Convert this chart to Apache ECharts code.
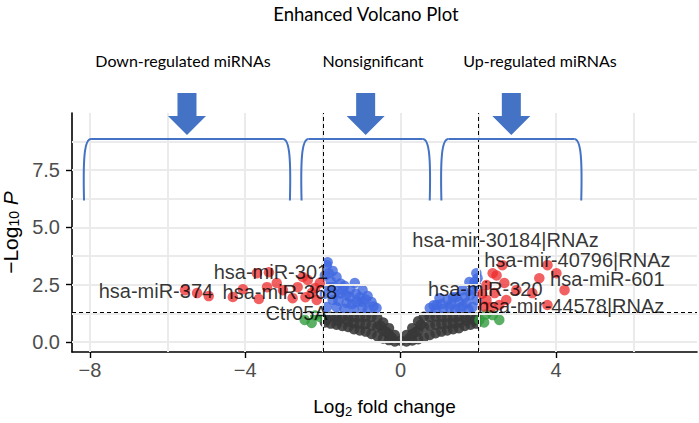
<!DOCTYPE html>
<html>
<head>
<meta charset="utf-8">
<script src="https://cdn.jsdelivr.net/npm/echarts@6/dist/echarts.min.js"></script>
<style>
  html, body { margin: 0; padding: 0; background: #fff; }
  #volcano { width: 699px; height: 423px; }
</style>
</head>
<body>
<div id="volcano"></div>
<script>
// 坐标轴刻度
const xTicks = [-8, -4, 0, 4]
const yTicks = [0, 2.5, 5, 7.5]
const xMinor = [-6, -2, 2, 6]
const yMinor = [1.25, 3.75, 6.25, 8.75]
const xRange = [-8.46, 7.63]
const yRange = [-0.44, 9.99]

// 阈值: |log2FC| = 2, -log10 P = 1.3
const fcCutoff = [-2, 2]
const pCutoff = [1.3]

// 不显著 (灰)
const grayPoints = [
  [-1.95, 1.1], [-1.8, 1.1], [-1.65, 1.1], [-1.5, 1.1], [-1.35, 1.1], [-1.2, 1.1], [-1.05, 1.1],
  [-0.9, 1.1], [-0.75, 1.1], [-0.6, 1.05], [-0.45, 0.85], [-0.3, 0.6], [-0.15, 0.3],
  [-1.95, 0.85], [-1.8, 0.8], [-1.65, 0.75], [-1.5, 0.7], [-1.35, 0.65], [-1.2, 0.55], [-1.05, 0.5],
  [-0.9, 0.45], [-0.75, 0.35], [-0.6, 0.25], [-0.45, 0.15], [-0.3, 0.08], [-0.15, 0.02],
  [-1.35, 0.88], [-1.2, 0.82], [-1.05, 0.8], [-0.9, 0.78], [-0.75, 0.72], [-0.6, 0.65], [-0.45, 0.5], [-0.3, 0.33],
  [-1.9, 0.98], [-1.6, 0.92], [-0.52, 0.7], [-0.38, 0.45], [-0.22, 0.18],
  [0, 0.05],
  [0.15, 0.3], [0.3, 0.6], [0.45, 0.9], [0.6, 1.1], [0.75, 1.1], [0.9, 1.1], [1.05, 1.1],
  [1.2, 1.1], [1.35, 1.1], [1.5, 1.1], [1.65, 1.1], [1.8, 1.1], [1.95, 1.05],
  [0.15, 0.02], [0.3, 0.06], [0.45, 0.12], [0.6, 0.2], [0.75, 0.3], [0.9, 0.38], [1.05, 0.45],
  [1.2, 0.5], [1.35, 0.55], [1.5, 0.6], [1.65, 0.7], [1.8, 0.75], [1.95, 0.8],
  [0.3, 0.33], [0.45, 0.5], [0.6, 0.65], [0.75, 0.72], [0.9, 0.75], [1.05, 0.78], [1.2, 0.8], [1.35, 0.82], [1.5, 0.85],
  [1.7, 0.92], [1.9, 0.95], [0.52, 0.75], [0.38, 0.42], [0.22, 0.15]
]

// 仅 P 显著 (蓝)
const bluePoints = [
  [-1.88, 3.48], [-1.9, 3.35], [-1.65, 2.83], [-1.83, 2.39], [-1.49, 2.26], [-1.18, 2.57],
  [-0.98, 2.26], [-0.75, 1.74], [-1.13, 1.74], [-1.39, 1.7], [-1.75, 1.83], [-1.9, 1.52],
  [-1.31, 1.96], [-1.65, 1.52], [-0.98, 1.52], [-0.62, 1.48], [-1.95, 2.9], [-1.75, 3.1],
  [-1.55, 2.55], [-1.95, 2.1], [-1.7, 2.1], [-1.45, 1.45], [-1.2, 1.4], [-0.85, 1.4],
  [-1.3, 2.3], [-1.05, 1.95], [-0.85, 2.0], [-1.8, 2.65], [-1.55, 2.1], [-1.4, 2.05],
  [-1.6, 1.8], [-1.25, 1.65], [-1.0, 1.75], [-0.9, 1.85], [-1.7, 2.4], [-1.45, 2.45],
  [-1.15, 2.1], [-1.85, 3.0], [-0.7, 1.55],
  [1.98, 2.78], [1.77, 2.61], [1.6, 2.26], [1.85, 2.26], [1.44, 1.96], [1.21, 1.83],
  [1.0, 1.91], [0.93, 1.61], [1.26, 1.52], [1.7, 1.7], [1.85, 1.52], [1.52, 1.48],
  [0.75, 1.48], [1.95, 1.83], [1.95, 2.45], [1.65, 1.95], [1.1, 1.45], [1.4, 1.4],
  [1.75, 1.4], [0.9, 1.4], [1.95, 3.0], [1.5, 1.75], [1.3, 1.65], [1.8, 2.05],
  [1.6, 1.55], [1.05, 1.65], [1.35, 1.95], [0.85, 1.6], [1.9, 2.6]
]

// 仅 FC 显著 (绿)
const greenPoints = [
  [-2.29, 0.83], [-2.47, 0.96], [-2.08, 1.09], [-2.2, 1.15],
  [2.03, 0.96], [2.37, 1.17], [2.54, 0.96], [2.2, 1.2], [2.15, 0.85]
]

// 双显著 (红)
const redPoints = [
  [-5.55, 2.26], [-5.24, 2.13], [-4.94, 2.0], [-4.32, 1.96], [-4.06, 2.3], [-3.65, 1.87],
  [-3.44, 2.39], [-3.7, 3.0], [-3.39, 3.04], [-3.19, 2.57], [-3.03, 2.26], [-2.78, 1.91],
  [-2.65, 2.39], [-2.52, 2.83], [-2.39, 2.7], [-2.29, 2.13], [-2.16, 1.83], [-2.08, 2.57],
  [-2.2, 2.35], [-2.45, 1.95],
  [2.62, 3.35], [3.78, 3.35], [4.01, 3.0], [4.22, 2.26], [3.78, 1.61], [2.47, 2.9],
  [2.67, 2.57], [2.21, 2.48], [2.98, 2.26], [2.42, 2.13], [2.21, 1.83], [2.34, 1.52],
  [2.72, 1.83], [3.39, 2.13], [3.57, 2.78], [2.37, 3.0], [2.54, 1.61], [2.1, 2.1], [2.15, 1.55]
]

// 基因标签 (文字中心)
const geneNames = ['hsa-miR-374', 'hsa-miR-301', 'hsa-miR-368', 'Ctr05A',
  'hsa-mir-30184|RNAz', 'hsa-mir-40796|RNAz', 'hsa-miR-601', 'hsa-miR-320', 'hsa-mir-44578|RNAz']
const geneLabelX = [-6.3, -3.34, -3.11, -2.68, 2.7, 4.55, 5.32, 2.18, 4.39]
const geneLabelY = [2.22, 3.05, 2.17, 1.26, 4.45, 3.57, 2.75, 2.31, 1.57]

// 区域注释
const regionNames = ['Down-regulated miRNAs', 'Nonsignificant', 'Up-regulated miRNAs']
const regionStart = [-8.15, -2.55, 1.05]
const regionEnd = [-2.85, 0.75, 4.65]
const bracketLow = 6.17
const bracketHigh = 8.85

const titleText = 'Enhanced Volcano Plot'

const FONT = '"Liberation Sans", Arial, sans-serif'
const NOTE_FONT = 'Lato, "Open Sans", sans-serif'
const BLUE_NOTE = '#4472c4'

const minus = v => (v < 0 ? '\u2212' + Math.abs(v) : String(v))

const gridLines = []
xTicks.concat(xMinor).forEach(v => gridLines.push({ xAxis: v }))
yTicks.concat(yMinor).forEach(v => gridLines.push({ yAxis: v }))

const cutLines = fcCutoff.map(v => ({ xAxis: v })).concat(pCutoff.map(v => ({ yAxis: v })))

const pointSeries = (data, color, opacity, z) => ({
  type: 'scatter',
  data: data,
  symbolSize: 10.5,
  z: z,
  silent: true,
  itemStyle: { color: color, opacity: opacity }
})

const option = {
  animation: false,
  grid: { left: 72, right: 2, top: 113, bottom: 71, containLabel: false, outerBoundsMode: 'none' },
  xAxis: {
    type: 'value',
    min: xRange[0],
    max: xRange[1],
    axisLine: { show: true, onZero: false, lineStyle: { color: '#000', width: 1.6 } },
    axisTick: { show: true, customValues: xTicks, length: 6, lineStyle: { color: '#000', width: 1.4 } },
    axisLabel: { customValues: xTicks, formatter: minus, color: '#4d4d4d', fontSize: 20, fontFamily: FONT, margin: 8 },
    splitLine: { show: false },
    name: '{a|Log}{s|2}{a| fold change}',
    nameLocation: 'middle',
    nameGap: 42,
    nameTextStyle: {
      rich: {
        a: { fontSize: 19, fontFamily: FONT, color: '#000', lineHeight: 24 },
        s: { fontSize: 13, fontFamily: FONT, color: '#000', lineHeight: 13, verticalAlign: 'bottom' }
      }
    }
  },
  yAxis: {
    type: 'value',
    min: yRange[0],
    max: yRange[1],
    axisLine: { show: true, onZero: false, lineStyle: { color: '#000', width: 1.6 } },
    axisTick: { show: true, customValues: yTicks, length: 6, lineStyle: { color: '#000', width: 1.4 } },
    axisLabel: { customValues: yTicks, formatter: v => v.toFixed(1), color: '#4d4d4d', fontSize: 20, fontFamily: FONT, margin: 12 },
    splitLine: { show: false },
    name: '{a|\u2212Log}{s|10}{a| }{i|P}',
    nameLocation: 'middle',
    nameRotate: 90,
    nameGap: 30,
    nameTextStyle: {
      rich: {
        a: { fontSize: 21, fontFamily: FONT, color: '#000', lineHeight: 22 },
        s: { fontSize: 14, fontFamily: FONT, color: '#000', lineHeight: 14, verticalAlign: 'bottom' },
        i: { fontSize: 21, fontFamily: FONT, color: '#000', lineHeight: 22, fontStyle: 'italic' }
      }
    }
  },
  series: [
    {
      // 背景网格
      type: 'scatter',
      data: [],
      silent: true,
      z: 1,
      markLine: {
        silent: true,
        symbol: ['none', 'none'],
        label: { show: false },
        lineStyle: { color: '#ebebeb', width: 2, type: 'solid' },
        data: gridLines
      }
    },
    pointSeries(grayPoints, '#383838', 0.88, 2),
    pointSeries(greenPoints, '#2e9a3a', 0.78, 3),
    pointSeries(bluePoints, '#4169e1', 0.8, 4),
    pointSeries(redPoints, '#ee2c2c', 0.75, 5),
    {
      // 阈值虚线
      type: 'scatter',
      data: [],
      silent: true,
      z: 6,
      markLine: {
        silent: true,
        symbol: ['none', 'none'],
        label: { show: false },
        lineStyle: { color: '#000', width: 1, type: [4, 3] },
        data: cutLines
      }
    },
    {
      // 基因名
      type: 'scatter',
      z: 7,
      silent: true,
      symbolSize: 0,
      data: geneNames.map((n, i) => ({ name: n, value: [geneLabelX[i], geneLabelY[i]] })),
      label: {
        show: true,
        position: 'inside',
        formatter: '{b}',
        color: '#000',
        fontSize: 20,
        fontFamily: FONT
      }
    }
  ]
}

const chart = echarts.init(document.getElementById('volcano'), null, { renderer: 'svg' })
chart.setOption(option)

// 区域括号和箭头
const labelPos = [183, 373, 540] // 区域文字中心 (px)
const noteStyle = { stroke: BLUE_NOTE, lineWidth: 2, fill: 'none' }
const graphics = [{
  type: 'text',
  x: 366, y: 14,
  style: { text: titleText, fill: '#000', font: '18.5px ' + NOTE_FONT, align: 'center', verticalAlign: 'middle' }
}]

regionNames.forEach((name, i) => {
  const [x0, yb] = chart.convertToPixel({ gridIndex: 0 }, [regionStart[i], bracketLow])
  const [x1, yt] = chart.convertToPixel({ gridIndex: 0 }, [regionEnd[i], bracketHigh])
  const cx = (x0 + x1) / 2
  graphics.push({
    type: 'bezierCurve', z: 20, style: noteStyle,
    shape: { x1: x0, y1: yb, cpx1: x0 - 1, cpy1: yt + 22, cpx2: x0, cpy2: yt, x2: x0 + 7, y2: yt }
  })
  graphics.push({
    type: 'line', z: 20, style: noteStyle,
    shape: { x1: x0 + 7, y1: yt, x2: x1 - 7, y2: yt }
  })
  graphics.push({
    type: 'bezierCurve', z: 20, style: noteStyle,
    shape: { x1: x1 - 7, y1: yt, cpx1: x1, cpy1: yt, cpx2: x1 + 1, cpy2: yt + 22, x2: x1, y2: yb }
  })
  graphics.push({
    type: 'polygon', z: 20,
    shape: {
      points: [[cx - 9.5, 93], [cx + 9.5, 93], [cx + 9.5, 116], [cx + 19, 116], [cx, 135], [cx - 19, 116], [cx - 9.5, 116]]
    },
    style: { fill: BLUE_NOTE }
  })
  graphics.push({
    type: 'text', z: 20,
    x: labelPos[i], y: 60,
    style: { text: name, fill: '#000', font: '16px ' + NOTE_FONT, align: 'center', verticalAlign: 'middle' }
  })
})

chart.setOption({ graphic: graphics })
</script>
</body>
</html>
